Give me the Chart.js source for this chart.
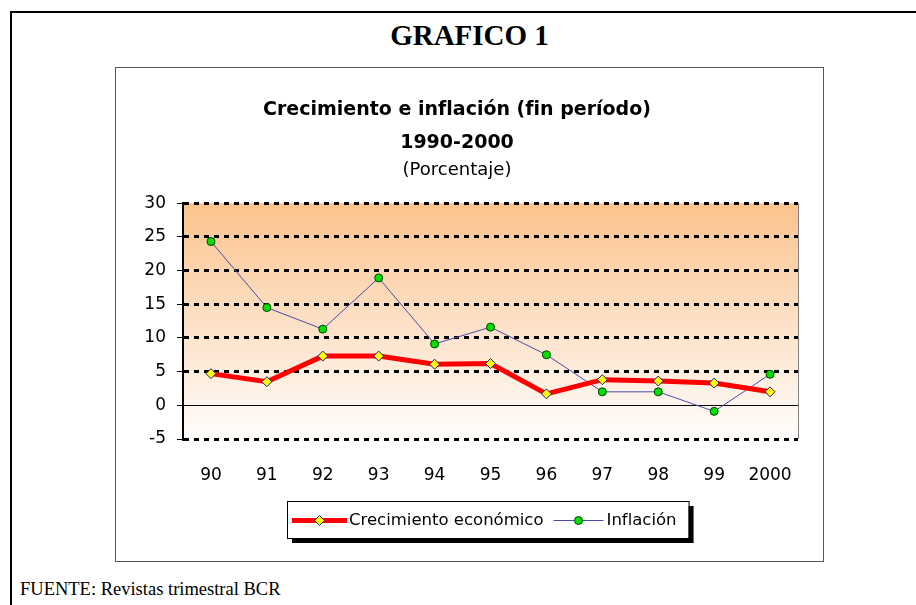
<!DOCTYPE html>
<html lang="es">
<head>
<meta charset="utf-8">
<title>GRAFICO 1</title>
<script src="https://cdn.jsdelivr.net/npm/chart.js@4.4.1/dist/chart.umd.min.js"></script>
<style>
    html, body { margin: 0; padding: 0; background: #fff; overflow: hidden; }
    body { width: 916px; height: 605px; position: relative; }
    #marco {
        position: absolute; left: 10px; top: 11px; width: 940px; height: 640px;
        border-left: 2px solid #000; border-top: 2px solid #000;
    }
    #titulo {
        position: absolute; left: 115px; top: 19px; width: 709px; height: 30px;
        line-height: 30px; text-align: center;
        font: bold 29px "Liberation Serif", "Times New Roman", serif; color: #000;
    }
    #caja {
        position: absolute; left: 115px; top: 67px; width: 707px; height: 493px;
        border: 1px solid #555;
    }
    #caja canvas { display: block; }
    #fuente {
        position: absolute; left: 20px; top: 579px; line-height: 20px;
        font: 18.5px "Liberation Serif", "Times New Roman", serif; color: #000;
    }
</style>
</head>
<body>
<div id="marco"></div>
<div id="titulo">GRAFICO 1</div>
<div id="caja"><canvas id="grafico" width="707" height="493"></canvas></div>
<div id="fuente">FUENTE: Revistas trimestral BCR</div>

<script>
// Datos (porcentaje)
const anios = ['90', '91', '92', '93', '94', '95', '96', '97', '98', '99', '2000'];
const crecimiento = [4.7, 3.5, 7.3, 7.3, 6.1, 6.2, 1.7, 3.8, 3.6, 3.3, 2.0];
const inflacion = [24.3, 14.5, 11.3, 18.9, 9.1, 11.6, 7.5, 2.0, 2.0, -0.9, 4.6];

const tituloGrafico = ['Crecimiento e inflación (fin período)', '1990-2000'];
const subtituloGrafico = '(Porcentaje)';
const nombresSeries = ['Crecimiento económico', 'Inflación'];

const FUENTE = '"DejaVu Sans", Verdana, sans-serif';

// Fondo degradado del área de trazado + borde derecho gris
const fondoPlugin = {
    id: 'fondo',
    beforeDraw(chart) {
        const { ctx, chartArea: a } = chart;
        const g = ctx.createLinearGradient(0, a.top, 0, a.bottom);
        g.addColorStop(0, '#fbc38d');
        g.addColorStop(0.55, '#fde3cb');
        g.addColorStop(1, '#fffdfc');
        ctx.save();
        ctx.fillStyle = g;
        ctx.fillRect(a.left, a.top, a.right - a.left, a.bottom - a.top);
        ctx.strokeStyle = '#808080';
        ctx.lineWidth = 1;
        ctx.beginPath();
        ctx.moveTo(a.right + 0.5, a.top);
        ctx.lineTo(a.right + 0.5, a.bottom);
        ctx.stroke();
        ctx.restore();
    }
};

// Leyenda al estilo Excel: línea + marcador, con sombra
const leyendaPlugin = {
    id: 'leyendaExcel',
    afterDraw(chart) {
        const { ctx, chartArea: a } = chart;
        ctx.save();
        ctx.font = '16.5px ' + FUENTE;
        const muestra = [55, 50];
        const anchos = nombresSeries.map(n => ctx.measureText(n).width);
        const ancho = 5 + muestra[0] + 2 + anchos[0] + 10 + muestra[1] + 3 + anchos[1] + 12;
        const alto = 37;
        const x0 = Math.round((a.left + a.right) / 2 - ancho / 2 - 3);
        const y0 = Math.round(a.bottom + 62);

        ctx.fillStyle = '#000';
        ctx.fillRect(x0 + 5, y0 + 5, ancho, alto);
        ctx.fillStyle = '#fff';
        ctx.fillRect(x0, y0, ancho, alto);
        ctx.strokeStyle = '#000';
        ctx.lineWidth = 1;
        ctx.strokeRect(x0 + 0.5, y0 + 0.5, ancho, alto);

        const yc = y0 + alto / 2 + 1;
        let x = x0 + 5;
        chart.data.datasets.forEach((ds, i) => {
            const cx = x + muestra[i] / 2;
            ctx.strokeStyle = ds.borderColor;
            ctx.lineWidth = ds.borderWidth;
            ctx.beginPath();
            ctx.moveTo(x, yc);
            ctx.lineTo(x + muestra[i], yc);
            ctx.stroke();

            ctx.fillStyle = ds.pointBackgroundColor;
            ctx.strokeStyle = ds.pointBorderColor;
            ctx.lineWidth = ds.pointBorderWidth;
            ctx.beginPath();
            if (ds.pointStyle === 'rectRot') {
                const r = ds.pointRadius;
                ctx.moveTo(cx, yc - r); ctx.lineTo(cx + r, yc);
                ctx.lineTo(cx, yc + r); ctx.lineTo(cx - r, yc);
                ctx.closePath();
            } else {
                ctx.arc(cx, yc, ds.pointRadius, 0, Math.PI * 2);
            }
            ctx.fill();
            ctx.stroke();

            x += muestra[i] + (i === 0 ? 2 : 3);
            ctx.fillStyle = '#000';
            ctx.textBaseline = 'middle';
            ctx.textAlign = 'left';
            ctx.fillText(nombresSeries[i], x, yc);
            x += anchos[i] + 10;
        });
        ctx.restore();
    }
};

const ctx = document.getElementById('grafico').getContext('2d');
new Chart(ctx, {
    type: 'line',
    data: {
        labels: anios,
        datasets: [{
            label: nombresSeries[0],
            data: crecimiento,
            borderColor: '#ff0000',
            borderWidth: 5,
            pointStyle: 'rectRot',
            pointRadius: 5,
            pointBackgroundColor: '#ffff00',
            pointBorderColor: '#1a1a8c',
            pointBorderWidth: 1,
            tension: 0
        }, {
            label: nombresSeries[1],
            data: inflacion,
            borderColor: '#4b4ba8',
            borderWidth: 1,
            pointStyle: 'circle',
            pointRadius: 4,
            pointBackgroundColor: '#00e000',
            pointBorderColor: '#004000',
            pointBorderWidth: 1,
            tension: 0
        }]
    },
    options: {
        responsive: false,
        animation: false,
        layout: { padding: { left: 0, right: 25, top: 0, bottom: 72 } },
        plugins: {
            legend: { display: false },
            tooltip: { enabled: false },
            title: {
                display: true,
                text: tituloGrafico,
                color: '#000',
                font: { family: FUENTE, size: 19, weight: 'bold', lineHeight: 1.74 },
                padding: { top: 25.5, bottom: 0 }
            },
            subtitle: {
                display: true,
                text: subtituloGrafico,
                color: '#000',
                font: { family: FUENTE, size: 18, weight: 'normal', lineHeight: 1.2 },
                padding: { top: 0, bottom: 21.9 }
            }
        },
        scales: {
            x: {
                offset: true,
                grid: { display: false },
                border: { display: false },
                ticks: { color: '#000', padding: 18, font: { family: FUENTE, size: 17 } },
                afterFit(scale) { scale.height = 50; }
            },
            y: {
                min: -5,
                max: 30,
                ticks: {
                    stepSize: 5,
                    color: '#000',
                    padding: 11,
                    font: { family: FUENTE, size: 17 }
                },
                grid: {
                    color: '#000',
                    lineWidth: c => (c.tick && c.tick.value === 0 ? 1 : 3),
                    tickColor: '#000',
                    tickWidth: 1,
                    tickLength: 6
                },
                border: {
                    display: true,
                    color: '#000',
                    width: 2,
                    dash: c => (c.tick && c.tick.value === 0 ? [] : [5, 5])
                },
                afterFit(scale) { scale.width = 67; }
            }
        }
    },
    plugins: [fondoPlugin, leyendaPlugin]
});
</script>
</body>
</html>
